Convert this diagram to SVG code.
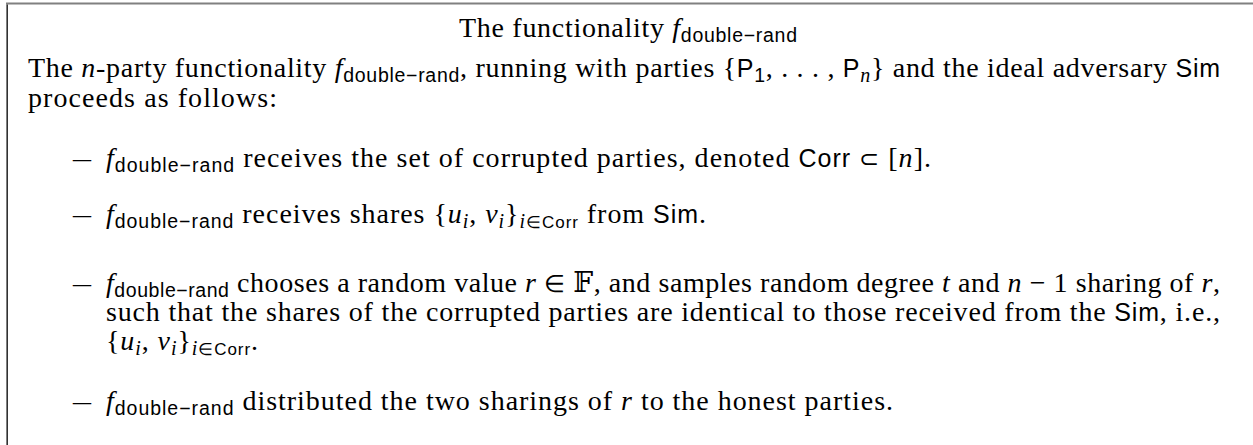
<svg xmlns="http://www.w3.org/2000/svg" width="1253" height="445" viewBox="0 0 1253 445">
<style>
.t{font-family:"Liberation Serif",serif;font-size:28px;fill:#000}
.mi{font-style:italic}
.op{font-size:24px}
.sf{font-family:"Liberation Sans",sans-serif;font-size:25px}
.sub{font-family:"Liberation Sans",sans-serif;font-size:19.5px}
.subi{font-family:"Liberation Serif",serif;font-style:italic;font-size:20px}
.subs{font-family:"Liberation Sans",sans-serif;font-size:17px}
.bb{font-family:"DejaVu Serif","DejaVu Sans",serif}
</style>
<rect width="1253" height="445" fill="#fff"/>
<g id="frame">
<rect x="6" y="2.5" width="1247" height="2" fill="#808080"/>
<rect x="6.5" y="4.5" width="1.3" height="440.5" fill="#000"/>
</g>
<g id="title">
<text class="t" x="628" y="37" text-anchor="middle" textLength="338">The functionality <tspan class="mi">f</tspan><tspan class="sub" dy="5">double−rand</tspan></text>
</g>
<g id="intro">
<text class="t" x="28" y="77" textLength="1192">The <tspan class="mi">n</tspan>-party functionality <tspan class="mi">f</tspan><tspan class="sub" dy="5">double−rand</tspan><tspan dy="-5">, running with parties {</tspan><tspan class="sf">P</tspan><tspan class="sub" dy="5">1</tspan><tspan dy="-5">, . . . , </tspan><tspan class="sf">P</tspan><tspan class="subi" dy="5">n</tspan><tspan dy="-5">} and the ideal adversary </tspan><tspan class="sf">Sim</tspan></text>
<text class="t" x="28" y="107" textLength="249">proceeds as follows:</text>
</g>
<g id="item1">
<text class="t" x="73" y="167" textLength="18" lengthAdjust="spacingAndGlyphs">–</text>
<text class="t" x="106" y="167" textLength="825"><tspan class="mi">f</tspan><tspan class="sub" dy="5">double−rand</tspan><tspan dy="-5"> receives the set of corrupted parties, denoted </tspan><tspan class="sf">Corr</tspan> <tspan class="op">⊂</tspan> [<tspan class="mi">n</tspan>].</text>
</g>
<g id="item2">
<text class="t" x="73" y="223" textLength="18" lengthAdjust="spacingAndGlyphs">–</text>
<text class="t" x="106" y="223" textLength="600"><tspan class="mi">f</tspan><tspan class="sub" dy="5">double−rand</tspan><tspan dy="-5"> receives shares {</tspan><tspan class="mi">u</tspan><tspan class="subi" dy="5">i</tspan><tspan dy="-5">, </tspan><tspan class="mi">v</tspan><tspan class="subi" dy="5">i</tspan><tspan dy="-5">}</tspan><tspan class="subi" dy="5">i</tspan><tspan class="subs">∈Corr</tspan><tspan dy="-5"> from </tspan><tspan class="sf">Sim</tspan>.</text>
</g>
<g id="item3">
<text class="t" x="73" y="292" textLength="18" lengthAdjust="spacingAndGlyphs">–</text>
<text class="t" x="106" y="292" textLength="1114"><tspan class="mi">f</tspan><tspan class="sub" dy="5">double−rand</tspan><tspan dy="-5"> chooses a random value </tspan><tspan class="mi">r</tspan> <tspan class="op">∈</tspan> <tspan class="bb">𝔽</tspan>, and samples random degree <tspan class="mi">t</tspan> and <tspan class="mi">n</tspan> − 1 sharing of <tspan class="mi">r</tspan>,</text>
<text class="t" x="106" y="321" textLength="1114">such that the shares of the corrupted parties are identical to those received from the <tspan class="sf">Sim</tspan>, i.e.,</text>
<text class="t" x="106" y="350" textLength="152">{<tspan class="mi">u</tspan><tspan class="subi" dy="5">i</tspan><tspan dy="-5">, </tspan><tspan class="mi">v</tspan><tspan class="subi" dy="5">i</tspan><tspan dy="-5">}</tspan><tspan class="subi" dy="5">i</tspan><tspan class="subs">∈Corr</tspan><tspan dy="-5">.</tspan></text>
</g>
<g id="item4">
<text class="t" x="73" y="410" textLength="18" lengthAdjust="spacingAndGlyphs">–</text>
<text class="t" x="106" y="410" textLength="787"><tspan class="mi">f</tspan><tspan class="sub" dy="5">double−rand</tspan><tspan dy="-5"> distributed the two sharings of </tspan><tspan class="mi">r</tspan> to the honest parties.</text>
</g>
</svg>
